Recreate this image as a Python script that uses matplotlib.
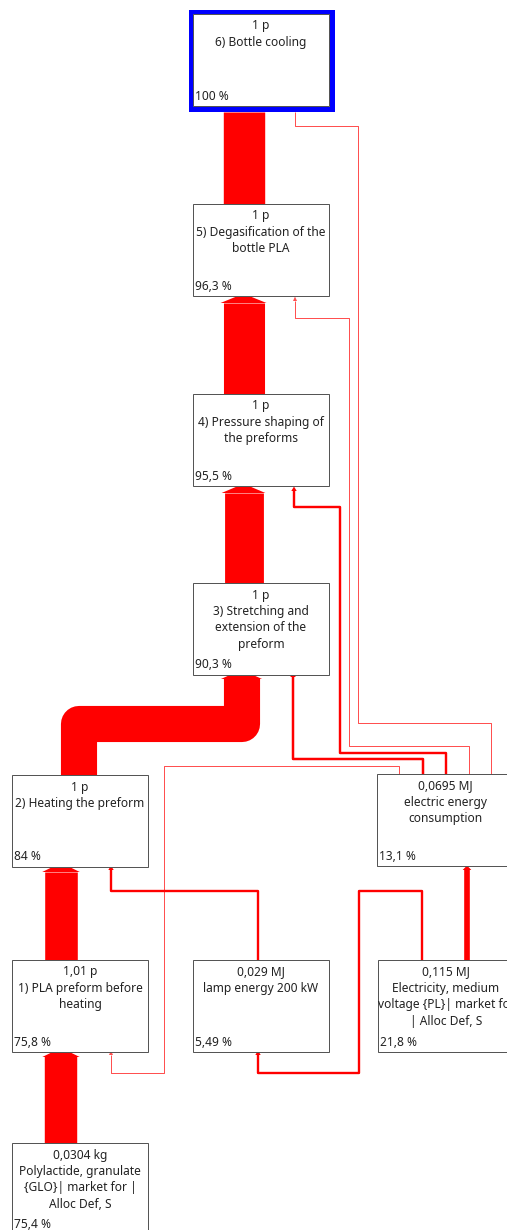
import matplotlib
matplotlib.use("Agg")
import matplotlib.pyplot as plt
from matplotlib.patches import Rectangle, Polygon

plt.rcParams.update({"font.family": ["Noto Sans", "DejaVu Sans"], "font.size": 8.6})

# %%
# Process data (network diagram)
amounts = ["1 p", "1 p", "1 p", "1 p", "1 p", "1,01 p", "0,0695 MJ", "0,029 MJ", "0,115 MJ", "0,0304 kg"]
names = [
    "6) Bottle cooling",
    "5) Degasification of the\nbottle PLA",
    "4) Pressure shaping of\nthe preforms",
    "3) Stretching and\nextension of the\npreform",
    "2) Heating the preform",
    "1) PLA preform before\nheating",
    "electric energy\nconsumption",
    "lamp energy 200 kW",
    "Electricity, medium\nvoltage {PL}| market for\n| Alloc Def, S",
    "Polylactide, granulate\n{GLO}| market for |\nAlloc Def, S",
]
shares = [100, 96.3, 95.5, 90.3, 84, 75.8, 13.1, 5.49, 21.8, 75.4]

# links: (source index, target index, flow share in %)
main_links = [(1, 0, 96.3), (2, 1, 95.5), (3, 2, 90.3), (4, 3, 84), (5, 4, 75.8), (9, 5, 75.4)]
side_links = [(6, 0, 1.0), (6, 1, 0.8), (6, 2, 5.6), (6, 3, 5.8), (6, 5, 0.6),
              (7, 4, 5.49), (8, 7, 5.49), (8, 6, 13.1)]

# %%
# layout (pixels)
box_xy = [(193, 14), (193, 204), (193, 394), (193, 583), (12, 775), (12, 960),
          (377, 774), (193, 960), (378, 960), (12, 1143)]
box_w, box_h = 136, 92
px_per_share = 0.43

main_routes = {
    (1, 0): [(243.5, 204), (243.5, 106)],
    (2, 1): [(243.5, 394), (243.5, 297)],
    (3, 2): [(243.5, 583), (243.5, 487)],
    (4, 3): [(79, 775), (79, 724), (241.5, 724), (241.5, 673)],
    (5, 4): [(61, 960), (61, 866)],
    (9, 5): [(61, 1143), (61, 1051)],
}
side_routes = {
    (6, 0): [(491, 774), (491, 723), (358, 723), (358, 126), (295, 126), (295, 108)],
    (6, 1): [(469, 774), (469, 746), (349, 746), (349, 318), (295, 318), (295, 297)],
    (6, 2): [(446, 774), (446, 753), (340, 753), (340, 507), (294, 507), (294, 487)],
    (6, 3): [(423, 774), (423, 759), (293, 759), (293, 673)],
    (6, 5): [(399, 774), (399, 766), (164, 766), (164, 1073), (111, 1073), (111, 1051)],
    (7, 4): [(258, 960), (258, 891), (111, 891), (111, 866)],
    (8, 7): [(422, 960), (422, 891), (359, 891), (359, 1073), (258, 1073), (258, 1051)],
    (8, 6): [(467, 960), (467, 866)],
}

red = "#ff0000"
light_red = "#ff5050"
pt = 72 / 100  # pixel -> points at dpi 100

fig = plt.figure(figsize=(5.07, 12.30), dpi=100)
ax = fig.add_axes([0, 0, 1, 1])
ax.set_xlim(0, 507)
ax.set_ylim(1230, 0)
ax.axis("off")


def draw_route(points, width, head_len, colour):
    xs = [p[0] for p in points]
    ys = [p[1] for p in points]
    # stop the line before the head
    ys_line = ys[:-1] + [ys[-1] + head_len]
    ax.plot(xs, ys_line, color=colour, lw=width * pt, solid_joinstyle="round",
            solid_capstyle="butt", zorder=2)
    xc, yt = xs[-1], ys[-1]
    if width > 8:
        head = [(xc - width / 2 - 2.5, yt + head_len), (xc - width * 0.2, yt),
                (xc + width * 0.2, yt), (xc + width / 2 + 2.5, yt + head_len)]
    else:
        head = [(xc - width / 2 - 1.5, yt + head_len), (xc, yt - 0.5),
                (xc + width / 2 + 1.5, yt + head_len)]
    ax.add_patch(Polygon(head, closed=True, color=colour, lw=0, zorder=2))


# main flows
for src, tgt, share in main_links:
    draw_route(main_routes[(src, tgt)], share * px_per_share, 6, red)

# side flows (the thinnest ones look lighter)
for src, tgt, share in side_links:
    w = max(1.0, share * px_per_share)
    draw_route(side_routes[(src, tgt)], w, 4, light_red if w <= 1.0 else red)

# boxes
for i, (x, y) in enumerate(box_xy):
    if i == 0:
        ax.add_patch(Rectangle((x - 2.5, y - 2.5), box_w + 5, box_h + 5, fill=False,
                               edgecolor="#0000ff", lw=5 * pt, zorder=3))
    ax.add_patch(Rectangle((x, y), box_w, box_h, facecolor="white",
                           edgecolor="#555555", lw=1 * pt, zorder=3))
    lines = [amounts[i]] + names[i].split("\n")
    for k, line in enumerate(lines):
        ax.text(x + box_w / 2, y + 12 + 16.4 * k, line, ha="center", va="center",
                color="#222222", zorder=4)
    label = f"{shares[i]:g}".replace(".", ",") + " %"
    ax.text(x + 2, y + box_h - 10, label, ha="left", va="center",
            color="#222222", zorder=4)

plt.savefig("out.png", dpi=100)
